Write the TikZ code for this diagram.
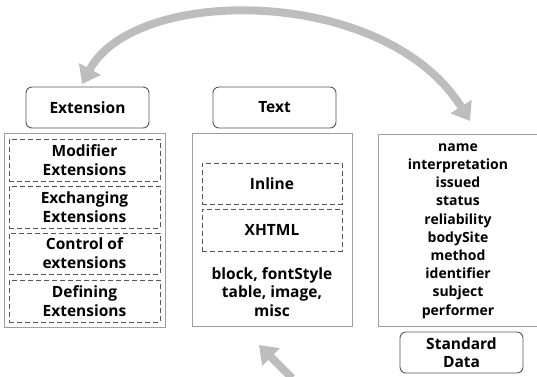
\documentclass[tikz,border=0pt]{standalone}
\usepackage{fontspec}
\setmainfont{Open Sans}[BoldFont={Open Sans Bold}]
\usepackage{tikz}
\usetikzlibrary{arrows.meta,positioning}
\definecolor{arcgray}{HTML}{BDBDBD}
\definecolor{zonegray}{HTML}{9E9E9E}
\definecolor{edgegray}{HTML}{555555}
\tikzset{
  hdr/.style={draw=edgegray, rounded corners=6pt, line width=0.9pt, fill=white,
    align=center, inner sep=2pt, minimum width=123pt, minimum height=41pt,
    font=\bfseries\fontsize{15.5}{18.5}\selectfont},
  zone/.style={draw=zonegray, line width=1pt, inner sep=0pt},
  sub/.style={draw=edgegray, dashed, dash pattern=on 5pt off 3pt, line width=0.8pt,
    align=center, inner sep=0pt, minimum width=151pt,
    font=\bfseries\fontsize{15.5}{19}\selectfont},
  lbl/.style={align=center, inner sep=0pt, font=\bfseries\fontsize{14}{18.2}\selectfont},
  arr/.style={-{Triangle[length=17pt, width=24pt]}, line width=8pt, draw=arcgray},
}
\begin{document}
\begin{tikzpicture}[x=1pt, y=-1pt]
\useasboundingbox (0,0) rectangle (537,376);

%% headers
\node[hdr] (ext_hdr) at (87.5,107.5) {Extension};
\node[hdr] (txt_hdr) at (274.5,107.5) {Text};
\node[hdr] (std_hdr) at (461.5,352.5) {Standard\\Data};

%% containers
\node[zone, minimum width=161pt, minimum height=194pt] (ext_zone) at (84.5,230) {};
\node[zone, minimum width=160pt, minimum height=193pt] (txt_zone) at (272,229.5) {};
\node[zone, minimum width=160pt, minimum height=192pt] (std_zone) at (458,230) {};

%% extension parts
\node[sub, minimum height=42pt] (ext_mod) at (84.5,160) {Modifier\\Extensions};
\node[sub, minimum height=42pt] (ext_xch) at (84.5,207) {Exchanging\\Extensions};
\node[sub, minimum height=41pt] (ext_ctl) at (84.5,253.5) {Control of\\extensions};
\node[sub, minimum height=42pt] (ext_def) at (84.5,301) {Defining\\Extensions};

%% text parts
\node[sub, minimum width=140pt, minimum height=41pt] (txt_inl) at (272,183.5) {Inline};
\node[sub, minimum width=140pt, minimum height=42pt] (txt_xht) at (272,230) {XHTML};
\node[lbl, font=\bfseries\fontsize{15.5}{18.2}\selectfont] (txt_misc) at (272,292) {block, fontStyle\\table, image,\\misc};

%% standard data elements
\node[lbl] (std_list) at (458,231) {name\\interpretation\\issued\\status\\reliability\\bodySite\\method\\identifier\\subject\\performer};

%% arrows
\coordinate (arc_left) at (82,84);
\coordinate (arc_right) at (470,121);
\draw[{Triangle[length=17pt, width=24pt]}-{Triangle[length=17pt, width=24pt]}, line width=8pt, draw=arcgray]
  (arc_left) .. controls (135,-15) and (385,-15) .. (arc_right);
\coordinate (bot_tail) at (292,378);
\coordinate (bot_tip) at (259,345);
\draw[arr] (bot_tail) -- (bot_tip);

\end{tikzpicture}
\end{document}
